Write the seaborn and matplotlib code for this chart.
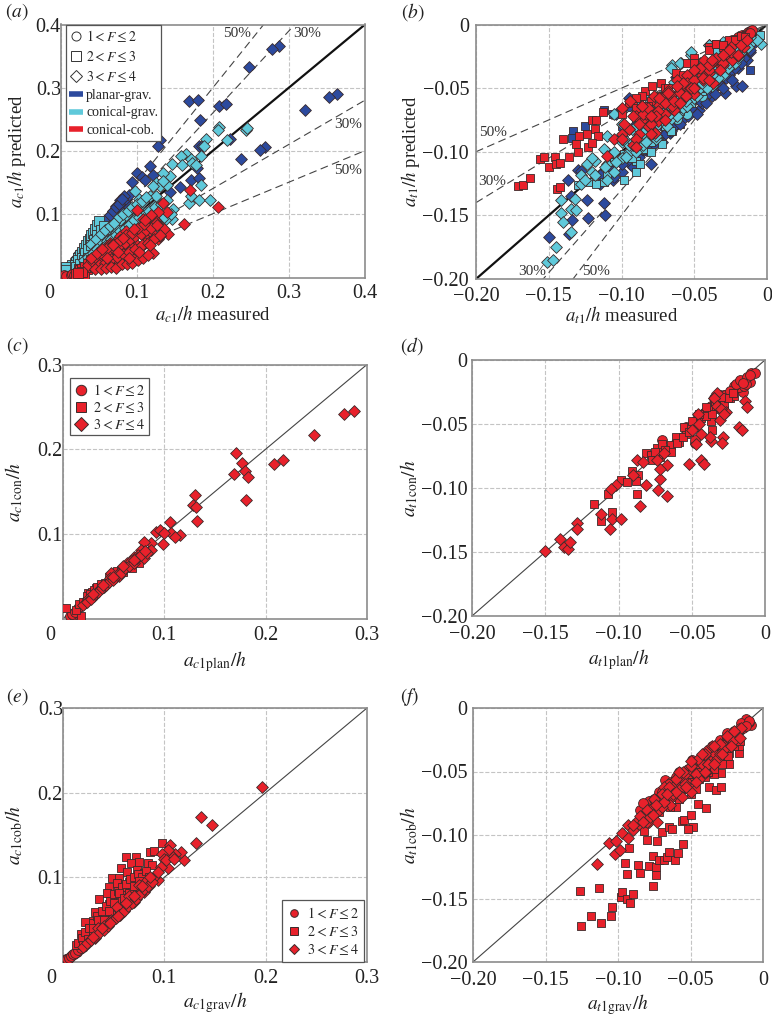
import matplotlib
matplotlib.use('Agg')
import matplotlib.pyplot as plt
from matplotlib.lines import Line2D
from matplotlib.transforms import ScaledTranslation
import seaborn as sns

# panel (a): a_c1/h predicted vs measured
a_plan_cir_x = [.012, .014, .016, .018, .02, .022, .025]
a_plan_cir_y = [.004, .006, .009, .012, .014, .018, .021]
a_plan_sq_x = [.018, .022, .026, .03, .034, .036, .04, .028, .024, .032, .044, .048, .052]
a_plan_sq_y = [.016, .022, .028, .033, .04, .045, .05, .022, .016, .026, .058, .064, .07]
a_plan_dia_x = [.287, .277, .247, .363, .353, .321, .169, .180, .208, .217, .183, .130, .128, .182, .222, .269,
                .262, .237, .117, .100, .106, .111, .121, .171, .181, .179, .157, .143, .093, .186,
                .03, .034, .038, .042, .046, .05, .054, .058, .062, .066, .07, .074, .078, .082, .086, .09,
                .036, .04, .045, .05, .055, .06, .065, .07, .075, .08, .085, .09, .083, .078, .072, .068,
                .02, .024, .028, .032, .036, .04, .044, .048, .052, .056, .06, .064, .068, .072, .076, .08,
                .026, .031, .037, .043, .049, .055, .061, .067, .073, .079, .085, .091, .097]
a_plan_dia_y = [.366, .361, .332, .290, .285, .264, .278, .281, .270, .274, .248, .217, .208, .207, .218, .205,
                .201, .186, .176, .165, .158, .154, .161, .154, .157, .173, .143, .134, .150, .208,
                .036, .045, .052, .058, .064, .07, .074, .08, .086, .09, .096, .102, .108, .118, .124, .13,
                .04, .046, .054, .058, .064, .07, .078, .084, .09, .096, .1, .11, .128, .122, .112, .104,
                .03, .037, .043, .05, .056, .062, .069, .075, .081, .087, .093, .098, .104, .11, .116, .124,
                .024, .031, .038, .046, .053, .061, .067, .074, .081, .088, .094, .102, .11]
a_cone_cir_x = [.012, .014, .016, .018, .02, .022, .024]
a_cone_cir_y = [.006, .005, .009, .01, .012, .015, .016]
a_cone_sq_x = [.013, .013, .015, .018, .02, .022, .025, .028, .03, .033, .036, .038, .04, .042, .045, .048, .05,
               .03, .035, .04, .045, .05, .055, .06, .065, .07, .018, .022, .026,
               .006, .007, .019, .023, .027, .031, .035, .039, .043, .047, .052, .056, .02, .025, .03, .035]
a_cone_sq_y = [.012, .016, .018, .02, .024, .03, .034, .04, .046, .05, .056, .06, .066, .07, .075, .082, .088,
               .03, .035, .042, .05, .055, .06, .068, .075, .082, .012, .016, .022,
               .016, .011, .019, .026, .03, .038, .044, .05, .058, .066, .074, .08, .015, .02, .026, .03]
a_cone_dia_x = [.243, .245, .208, .207, .219, .191, .188, .184, .146, .164, .158, .159, .171, .173, .177, .143,
                .134, .125, .130, .140, .134, .121, .117, .125, .103, .097, .184, .168, .171, .181, .196, .147,
                .146, .104, .086, .112, .095, .082, .075, .07, .065, .06, .055, .05, .078, .085, .09, .1, .108,
                .116, .122, .13, .138, .092, .098, .105, .113, .12, .128, .068, .075, .083, .06, .065, .072, .08,
                .04, .046, .052, .058, .064, .07, .076, .082, .088, .094, .1, .106, .112,
                .045, .052, .06, .068, .076, .084, .092, .1, .108, .116, .124, .132, .14,
                .055, .065, .075, .085, .095, .105, .115, .125, .135, .145,
                .03, .036, .042, .048, .054, .06, .066, .072, .078, .084, .09, .096, .102]
a_cone_dia_y = [.233, .236, .237, .232, .217, .219, .207, .191, .179, .194, .191, .177, .186, .181, .177, .159,
                .165, .149, .144, .146, .152, .144, .128, .128, .124, .136, .145, .117, .128, .121, .122, .107,
                .091, .109, .096, .102, .091, .081, .076, .07, .066, .06, .055, .05, .09, .098, .106, .112, .118,
                .1, .112, .098, .092, .068, .074, .08, .088, .094, .078, .062, .068, .074, .048, .052, .056, .06,
                .052, .06, .068, .074, .08, .086, .094, .1, .104, .11, .116, .12, .126,
                .042, .05, .056, .064, .07, .078, .084, .09, .096, .104, .11, .116, .122,
                .04, .048, .056, .062, .07, .076, .082, .088, .094, .1,
                .026, .032, .038, .044, .046, .052, .06, .066, .072, .078, .082, .09, .095]
a_red_cir_x = [.004, .006, .013, .015, .017, .02, .023, .025, .028]
a_red_cir_y = [.002, .001, .003, .004, .003, .006, .008, .005, .009]
a_red_sq_x = [.02, .024, .028, .03, .034, .036, .04, .044, .03, .024, .025, .028, .032, .036, .04, .028, .022]
a_red_sq_y = [.005, .008, .006, .01, .012, .016, .018, .022, .005, .012, .01, .013, .016, .02, .026, .008, .006]
a_red_dia_x = [.207, .162, .170, .134, .121, .098, .141, .130, .139, .128, .124, .115, .1, .112, .12, .128, .135,
               .04, .044, .048, .052, .056, .06, .064, .068, .072, .076, .08, .084, .088, .092, .096, .1, .104,
               .05, .055, .06, .065, .07, .075, .08, .085, .09, .095, .1, .105, .11, .115, .12, .125, .13,
               .06, .066, .072, .078, .084, .09, .096, .056, .064, .07, .078, .086, .092, .075, .082, .088, .108, .118,
               .035, .042, .049, .056, .063, .07, .077, .084, .091, .098, .105, .112, .119, .126,
               .05, .058, .066, .074, .082, .09, .098, .106, .114, .122, .13,
               .045, .053, .061, .069, .077, .085, .093, .101, .109,
               .045, .052, .059, .066, .073, .08, .087, .094, .101, .108, .115,
               .04, .047, .054, .061, .068, .075, .082, .089, .096, .103, .11, .117]
a_red_dia_y = [.110, .084, .137, .117, .037, .028, .067, .08, .102, .103, .09, .078, .106, .062, .07, .06, .075,
               .022, .026, .018, .03, .024, .036, .02, .042, .03, .05, .028, .056, .034, .06, .04, .07, .046,
               .032, .04, .048, .054, .03, .06, .038, .066, .042, .072, .05, .076, .054, .08, .058, .086, .064,
               .022, .038, .046, .02, .04, .05, .032, .028, .05, .036, .064, .072, .066, .025, .05, .03, .092, .098,
               .018, .024, .028, .034, .04, .044, .05, .054, .06, .064, .068, .074, .078, .082,
               .018, .022, .028, .032, .036, .04, .044, .05, .054, .06, .066,
               .032, .038, .046, .052, .058, .066, .07, .078, .084,
               .012, .012, .014, .016, .014, .02, .02, .022, .026, .03, .034,
               .03, .038, .044, .03, .05, .04, .062, .03, .075, .04, .09, .05]

# panel (b): a_t1/h predicted vs measured
b_plan_cir_x = [-.012, -.015, -.018, -.022, -.028, -.035, -.042, -.06, -.068]
b_plan_cir_y = [-.01, -.014, -.02, -.026, -.032, -.04, -.046, -.062, -.075]
b_plan_sq_x = [-.1335, -.125, -.134, -.112, -.106, -.012, -.095, -.1, -.09, -.085, -.08, -.075, -.07, -.065, -.06,
               -.055, -.05, -.045, -.04, -.035, -.03, -.025, -.02, -.015]
b_plan_sq_y = [-.084, -.080, -.089, -.067, -.07, -.036, -.065, -.08, -.075, -.072, -.066, -.07, -.08, -.084, -.078,
               -.07, -.068, -.056, -.052, -.048, -.042, -.034, -.028, -.022]
b_plan_dia_x = [-.15, -.136, -.124, -.123, -.112, -.111, -.134, -.1365, -.13, -.08, -.106, -.135, -.0465, -.067, -.083,
                -.021, -.017, -.029, -.038, -.045, -.052, -.058, -.062, -.07, -.075, -.09, -.095, -.1, -.108, -.115,
                -.033, -.026, -.012, -.014, -.02, -.024, -.04, -.05, -.056, -.078, -.086, -.095, -.128, -.104,
                -.1, -.094, -.088, -.082, -.076, -.07, -.064, -.058, -.052, -.046, -.04, -.034, -.028, -.022, -.016,
                -.012, -.008, -.11, -.1, -.09, -.08, -.07, -.06, -.05, -.04, -.03, -.02, -.0625,
                -.115, -.105, -.1, -.092, -.086, -.078, -.072, -.066, -.06, -.054, -.048, -.042, -.036, -.03, -.024, -.018]
b_plan_dia_y = [-.167, -.165, -.138, -.152, -.14, -.15, -.154, -.122, -.114, -.11, -.122, -.135, -.067, -.0855, -.099,
                -.048, -.048, -.054, -.056, -.062, -.068, -.072, -.078, -.082, -.088, -.096, -.104, -.108, -.112, -.118,
                -.046, -.04, -.022, -.028, -.034, -.036, -.05, -.058, -.064, -.092, -.1, -.058, -.115, -.07,
                -.116, -.11, -.104, -.098, -.09, -.086, -.08, -.074, -.066, -.06, -.054, -.046, -.042, -.034, -.026,
                -.02, -.014, -.1, -.088, -.078, -.07, -.06, -.052, -.042, -.035, -.026, -.018, -.041,
                -.125, -.12, -.11, -.112, -.098, -.094, -.092, -.084, -.078, -.072, -.07, -.062, -.055, -.05, -.044, -.03]
b_cone_cir_x = [-.085, -.075, -.062, -.055, -.045, -.035, -.025, -.018, -.012]
b_cone_cir_y = [-.098, -.09, -.074, -.07, -.056, -.044, -.032, -.022, -.014]
b_cone_sq_x = [-.09, -.0985, -.112, -.1175, -.123, -.09, -.087, -.093, -.08, -.075, -.07, -.066, -.06, -.05, -.045,
               -.04, -.035, -.03, -.025, -.02, -.015, -.01, -.005, -.098, -.105, -.11, -.13,
               -.085, -.08, -.078, -.072, -.065, -.058, -.052, -.045, -.038, -.03, -.022, -.014, -.06, -.04]
b_cone_sq_y = [-.116, -.122, -.1235, -.125, -.1235, -.107, -.11, -.105, -.092, -.09, -.08, -.084, -.068, -.055, -.052,
               -.046, -.04, -.034, -.026, -.02, -.016, -.012, -.008, -.102, -.108, -.118, -.126,
               -.098, -.1, -.085, -.094, -.07, -.066, -.062, -.05, -.044, -.028, -.022, -.012, -.056, -.03]
b_cone_dia_x = [-.151, -.147, -.145, -.1415, -.132, -.135, -.1415, -.1315, -.1405, -.135, -.128, -.124, -.118, -.11,
                -.105, -.1, -.095, -.09, -.085, -.08, -.076, -.072, -.066, -.062, -.058, -.054, -.05, -.046,
                -.042, -.038, -.034, -.03, -.026, -.022, -.018, -.014, -.01, -.065, -.059, -.052, -.04, -.02,
                -.004, -.1, -.105, -.09, -.08, -.07, -.06, -.128, -.12, -.11, -.1, -.092, -.085, -.075,
                -.125, -.118, -.111, -.104, -.097, -.09, -.083, -.076, -.069, -.062, -.055, -.048, -.041, -.034,
                -.027, -.02, -.013, -.007, -.1, -.09, -.08, -.07, -.06, -.05, -.04, -.03, -.02, -.012,
                -.095, -.085, -.075, -.065, -.055, -.045, -.035, -.025, -.066, -.06, -.052, -.04, -.035, -.03,
                -.12, -.112, -.105, -.098, -.092, -.086, -.08, -.074, -.068, -.062, -.056, -.05, -.044, -.038,
                -.032, -.026, -.02, -.015, -.11, -.1, -.09, -.082, -.072, -.064, -.054, -.046, -.036, -.028]
b_cone_dia_y = [-.187, -.185, -.175, -.138, -.1375, -.145, -.148, -.146, -.155, -.163, -.125, -.11, -.107, -.122,
                -.116, -.092, -.1, -.085, -.095, -.078, -.09, -.066, -.074, -.06, -.066, -.054, -.058, -.05,
                -.04, -.048, -.034, -.04, -.028, -.03, -.022, -.018, -.014, -.032, -.03, -.024, -.016, -.01,
                -.015, -.068, -.07, -.06, -.065, -.052, -.05, -.118, -.116, -.11, -.105, -.092, -.082, -.078,
                -.122, -.118, -.112, -.108, -.104, -.1, -.092, -.088, -.08, -.072, -.064, -.056, -.05, -.042,
                -.034, -.026, -.018, -.012, -.09, -.08, -.07, -.06, -.05, -.042, -.032, -.024, -.016, -.01,
                -.095, -.085, -.074, -.066, -.056, -.046, -.036, -.026, -.034, -.03, -.022, -.016, -.02, -.014,
                -.105, -.098, -.1, -.09, -.092, -.07, -.075, -.064, -.072, -.055, -.06, -.05, -.042, -.04,
                -.03, -.03, -.02, -.012, -.088, -.078, -.068, -.058, -.075, -.045, -.05, -.03, -.028, -.018]
b_red_cir_x = [-.02, -.017, -.015, -.013, -.012, -.011, -.01, -.024, -.03, -.026, -.022, -.02, -.016, -.014, -.012]
b_red_cir_y = [-.01, -.008, -.008, -.006, -.005, -.005, -.004, -.012, -.017, -.014, -.012, -.013, -.009, -.01, -.007]
b_red_sq_x = [-.171, -.168, -.163, -.156, -.153, -.150, -.146, -.145, -.142, -.140, -.136, -.130, -.144, -.142, -.131,
              -.129, -.124, -.123, -.120, -.1175, -.113, -.118, -.116, -.120, -.092, -.084, -.079, -.073, -.0625,
              -.1, -.095, -.09, -.086, -.08, -.07, -.065, -.055, -.05, -.04, -.035, -.03, -.026,
              -.05, -.04, -.035, -.03, -.022, -.018, -.015, -.058, -.068, -.075, -.082, -.09]
b_red_sq_y = [-.127, -.126, -.121, -.106, -.104, -.112, -.104, -.110, -.109, -.090, -.104, -.1005, -.129, -.128, -.094,
              -.088, -.086, -.096, -.075, -.075, -.069, -.082, -.088, -.0935, -.0615, -.052, -.048, -.046, -.0385,
              -.07, -.062, -.066, -.056, -.06, -.05, -.056, -.03, -.026, -.018, -.015, -.018, -.012,
              -.03, -.02, -.015, -.016, -.012, -.009, -.01, -.04, -.05, -.056, -.064, -.058]
b_red_dia_x = [-.11, -.105, -.1, -.095, -.092, -.088, -.085, -.082, -.08, -.077, -.074, -.07, -.067, -.064, -.06,
               -.057, -.054, -.05, -.047, -.044, -.04, -.037, -.034, -.03, -.027, -.024, -.02, -.016,
               -.09, -.083, -.075, -.068, -.06, -.052, -.045, -.038, -.032, -.025, -.018, -.014, -.1, -.094,
               -.072, -.078, -.086, -.062, -.055, -.043,
               -.1, -.095, -.09, -.085, -.08, -.075, -.07, -.065, -.06, -.055, -.05, -.045, -.04, -.035, -.03, -.025, -.02,
               -.088, -.082, -.076, -.07, -.064, -.058, -.052, -.046, -.04,
               -.098, -.092, -.086, -.08, -.074, -.068, -.062, -.056, -.05, -.044, -.038, -.032, -.026,
               -.09, -.08, -.07, -.06, -.05, -.04, -.03]
b_red_dia_y = [-.103, -.09, -.086, -.082, -.095, -.086, -.075, -.08, -.068, -.085, -.063, -.07, -.06, -.067, -.052,
               -.058, -.05, -.055, -.034, -.044, -.038, -.046, -.03, -.032, -.024, -.028, -.025, -.018,
               -.072, -.07, -.076, -.052, -.05, -.046, -.038, -.03, -.026, -.018, -.016, -.012, -.066, -.06,
               -.058, -.056, -.064, -.044, -.04, -.028,
               -.09, -.082, -.09, -.07, -.078, -.068, -.056, -.064, -.054, -.046, -.044, -.04, -.036, -.026, -.03, -.022, -.024,
               -.078, -.066, -.072, -.062, -.06, -.046, -.05, -.034, -.032,
               -.078, -.072, -.064, -.072, -.058, -.054, -.048, -.056, -.036, -.042, -.028, -.036, -.02,
               -.096, -.086, -.075, -.062, -.05, -.044, -.024]

# panel (c)
c_cir_x = [.007, .010, .015, .020, .024, .028, .009, .012, .017, .022]
c_cir_y = [.004, .005, .013, .018, .022, .026, .006, .008, .015, .02]
c_sq_x = [.0036, .018, .013, .025, .033, .041, .048, .056, .064, .071, .0755, .029, .037, .052, .060, .068,
          .016, .02, .024, .027, .031, .034, .038, .042, .046, .05, .054, .058]
c_sq_y = [.0125, .003, .011, .031, .036, .040, .046, .054, .062, .068, .066, .032, .038, .049, .055, .060,
          .018, .02, .027, .03, .034, .038, .041, .042, .05, .05, .056, .058]
c_dia_x = [.287, .2775, .248, .208, .2175, .171, .1685, .177, .180, .183, .181, .131, .1285, .132, .1325, .106, .107,
           .1155, .1105, .0995, .092, .096, .1, .087, .08, .087, .0805, .077, .0705, .064, .059, .0525, .048, .0445,
           .041, .036, .031, .0255, .067, .074, .056, .047, .038, .083,
           .02, .024, .028, .032, .035, .039, .043, .046, .05, .054, .058, .062, .066, .07, .073, .077, .081,
           .03, .04, .05, .06, .07]
c_dia_y = [.2455, .242, .217, .183, .188, .196, .1705, .1835, .174, .167, .14, .1465, .1345, .1325, .1155, .1145, .101,
           .099, .097, .088, .103, .105, .101, .0895, .091, .081, .072, .0815, .0735, .066, .058, .05, .054, .044,
           .038, .0345, .027, .023, .068, .075, .051, .048, .037, .078,
           .016, .02, .024, .03, .032, .036, .04, .044, .046, .052, .054, .06, .062, .066, .072, .076, .08,
           .03, .04, .05, .062, .07]

# panel (d)
d_cir_x = [-.07, -.048, -.048, -.054, -.046, -.0415, -.039, -.0345, -.031, -.022, -.0175, -.015, -.014, -.0095, -.007,
           -.0105, -.018, -.021, -.014, -.028, -.04, -.037, -.034, -.03, -.027, -.024, -.02, -.017, -.013, -.012, -.01, -.015]
d_cir_y = [-.0625, -.065, -.0625, -.0525, -.043, -.0415, -.038, -.03, -.027, -.0235, -.017, -.025, -.0155, -.0105,
           -.0105, -.017, -.021, -.02, -.02, -.027, -.04, -.036, -.033, -.03, -.027, -.024, -.019, -.016, -.019, -.013, -.012, -.018]
d_sq_x = [-.117, -.1075, -.1045, -.112, -.098, -.0945, -.0905, -.087, -.088, -.0875, -.0815, -.078, -.074, -.072, -.077,
          -.073, -.064, -.064, -.0585, -.061, -.054, -.055, -.0505, -.047, -.036, -.037, -.0335, -.029, -.024, -.021,
          -.028, -.034, -.06, -.056, -.052, -.048, -.044, -.04, -.036, -.032, -.028, -.025, -.022, -.03, -.04, -.045,
          -.05, -.07, -.075, -.068]
d_sq_y = [-.1125, -.105, -.1185, -.126, -.094, -.095, -.0865, -.09, -.0945, -.1045, -.073, -.074, -.069, -.0755, -.078,
          -.0745, -.0665, -.0715, -.064, -.06, -.0575, -.0525, -.0535, -.048, -.055, -.048, -.038, -.0325, -.03, -.0285,
          -.039, -.033, -.065, -.06, -.056, -.052, -.045, -.044, -.042, -.036, -.034, -.03, -.026, -.029, -.037, -.042,
          -.048, -.066, -.072, -.07]
d_dia_x = [-.15, -.14, -.137, -.1345, -.133, -.1285, -.128, -.112, -.1055, -.1045, -.098, -.085, -.067, -.073, -.072,
           -.0815, -.0875, -.0835, -.09, -.067, -.052, -.044, -.0415, -.037, -.0375, -.029, -.0295, -.018, -.016,
           -.0135, -.012, -.033, -.0345, -.047, -.0435, -.0265, -.031, -.102, -.105, -.069, -.072, -.074, -.046,
           -.035, -.033, -.03, -.028, -.045, -.05]
d_dia_y = [-.149, -.14, -.146, -.148, -.142, -.127, -.132, -.1205, -.132, -.124, -.1245, -.114, -.106, -.1015, -.093,
           -.098, -.0785, -.08, -.09, -.082, -.081, -.078, -.081, -.0635, -.06, -.06, -.0645, -.052, -.055,
           -.032, -.037, -.0255, -.03, -.066, -.0575, -.0405, -.047, -.098, -.1005, -.073, -.085, -.078, -.042,
           -.03, -.036, -.038, -.042, -.05, -.055]

# panel (e)
e_cir_x = [.003, .005, .007, .009, .011, .014, .017, .02, .004, .006, .008, .01, .012, .015, .018]
e_cir_y = [.003, .004, .006, .008, .01, .012, .015, .018, .004, .005, .007, .009, .011, .014, .016]
e_sq_x = [.0625, .0717, .067, .075, .057, .0635, .0735, .0855, .09, .084, .098, .088, .08, .0485, .055, .045, .0535,
          .0435, .036, .06, .068, .06, .052, .045, .037, .032, .03, .022, .0245, .0175, .0125, .043, .05, .056, .026,
          .065, .073, .035, .04, .028, .02,
          .015, .019, .022, .026, .03, .034, .038, .042, .046, .05, .054, .058, .062, .066, .07, .074, .078, .082,
          .02, .025, .03, .035, .04, .045, .05, .055, .06, .065, .07, .075, .08,
          .03, .035, .04, .045, .05, .055, .06, .065, .07, .075, .08, .085]
e_sq_y = [.124, .124, .117, .118, .111, .1065, .1085, .13, .131, .1165, .141, .1145, .105, .099, .099, .089, .093,
          .081, .074, .089, .089, .081, .076, .069, .055, .059, .049, .047, .0355, .033, .02, .06, .066, .072, .04,
          .095, .085, .048, .055, .028, .022,
          .022, .028, .036, .04, .046, .054, .06, .066, .072, .08, .084, .088, .092, .098, .1, .104, .1, .108,
          .02, .027, .032, .04, .043, .05, .056, .062, .068, .074, .08, .088, .094,
          .04, .05, .05, .06, .07, .082, .076, .082, .09, .096, .09, .1]
e_dia_x = [.196, .136, .147, .1315, .119, .116, .111, .109, .106, .104, .104, .098, .0995, .0965, .094, .09, .083, .08,
           .075, .07, .06, .0535, .055, .047, .035, .032, .025, .04, .065, .085, .078,
           .02, .024, .028, .032, .036, .04, .044, .048, .052, .056, .06, .064, .068, .072, .076, .08, .084, .088,
           .03, .038, .046, .054, .062, .07, .078, .086, .094, .102, .11]
e_dia_y = [.207, .171, .162, .141, .12, .130, .128, .124, .138, .132, .1105, .128, .122, .1125, .097, .1, .097, .083,
           .091, .071, .062, .065, .055, .05, .04, .028, .022, .042, .078, .09, .085,
           .018, .022, .026, .03, .034, .038, .042, .048, .052, .056, .06, .066, .07, .074, .08, .086, .09, .094,
           .03, .04, .046, .054, .07, .078, .09, .1, .106, .12, .122]

# panel (f)
f_cir_x = [-.049, -.0675, -.0635, -.0785, -.08, -.077, -.06, -.056, -.0245, -.012, -.0085, -.013, -.01, -.016, -.02,
           -.03, -.035, -.042, -.05, -.072, -.014, -.085, -.083, -.075, -.07, -.065, -.058, -.052, -.046, -.04, -.035,
           -.03, -.025, -.02, -.015, -.01, -.082, -.076, -.068, -.062, -.055, -.048, -.038, -.032, -.026, -.022, -.016, -.012]
f_cir_y = [-.041, -.057, -.058, -.0735, -.079, -.083, -.054, -.053, -.02, -.009, -.013, -.013, -.011, -.017, -.021,
           -.027, -.032, -.04, -.05, -.066, -.016, -.08, -.075, -.072, -.066, -.06, -.05, -.048, -.044, -.036, -.03,
           -.025, -.024, -.018, -.012, -.01, -.086, -.08, -.07, -.066, -.056, -.056, -.04, -.034, -.03, -.022, -.016, -.014]
f_sq_x = [-.1256, -.126, -.1185, -.113, -.1115, -.105, -.104, -.098, -.0975, -.094, -.0915, -.09, -.095, -.0935, -.0865,
          -.085, -.0785, -.076, -.0735, -.0735, -.076, -.0715, -.068, -.066, -.065, -.061, -.0585, -.0555, -.0925, -.08,
          -.073, -.0695, -.082, -.065, -.0625, -.056, -.0545, -.05, -.048, -.052, -.045, -.0395, -.0375, -.0325, -.029,
          -.0235, -.0235, -.0165, -.0165, -.029, -.034, -.04, -.0315, -.02, -.06, -.0785, -.05, -.044, -.038, -.028,
          -.068, -.055, -.048, -.036, -.026, -.075, -.068, -.062, -.056, -.05, -.045, -.04, -.035, -.03, -.026, -.022,
          -.018, -.07, -.06, -.05, -.04, -.03, -.025,
          -.08, -.072, -.064, -.058, -.052, -.046, -.04, -.034, -.028, -.024, -.02, -.016]
f_sq_y = [-.172, -.144, -.164, -.1415, -.1695, -.1635, -.1565, -.1485, -.145, -.15, -.1535, -.1465, -.122, -.1305, -.1235,
          -.13, -.1245, -.14, -.1315, -.125, -.1165, -.12, -.12, -.117, -.1135, -.12, -.1145, -.107, -.11, -.104,
          -.105, -.0975, -.097, -.0935, -.0955, -.089, -.088, -.084, -.0935, -.095, -.0755, -.079, -.0625, -.0645, -.0625,
          -.044, -.0355, -.0355, -.03, -.0515, -.052, -.054, -.041, -.0225, -.078, -.08, -.068, -.056, -.05, -.04,
          -.076, -.062, -.058, -.042, -.03, -.083, -.074, -.07, -.064, -.06, -.05, -.046, -.038, -.034, -.028, -.026,
          -.02, -.07, -.06, -.052, -.042, -.03, -.034,
          -.09, -.082, -.078, -.072, -.064, -.064, -.05, -.048, -.044, -.038, -.03, -.026]
f_dia_x = [-.1145, -.1065, -.1015, -.102, -.0985, -.097, -.093, -.093, -.09, -.0855, -.0785, -.073, -.082, -.076, -.07,
           -.066, -.063, -.06, -.057, -.054, -.051, -.048, -.045, -.042, -.039, -.0395, -.036, -.033, -.03, -.027, -.024,
           -.021, -.018, -.015, -.08, -.072, -.064, -.056, -.05, -.044, -.038, -.032, -.086, -.068, -.06,
           -.085, -.08, -.075, -.07, -.065, -.06, -.055, -.05, -.045, -.04, -.035, -.03, -.025, -.02, -.078, -.07, -.062,
           -.054, -.046, -.038, -.03, -.09, -.083, -.076, -.068, -.06, -.053, -.046, -.04, -.034, -.028, -.022, -.016,
           -.074, -.066, -.058, -.05, -.042, -.034]
f_dia_y = [-.123, -.106, -.105, -.115, -.112, -.0985, -.092, -.102, -.096, -.091, -.0895, -.09, -.084, -.078, -.073,
           -.066, -.07, -.06, -.064, -.052, -.06, -.05, -.054, -.044, -.05, -.0335, -.042, -.036, -.03, -.032, -.024,
           -.026, -.02, -.016, -.09, -.08, -.076, -.07, -.066, -.056, -.044, -.04, -.088, -.062, -.056,
           -.085, -.08, -.072, -.068, -.062, -.056, -.05, -.046, -.04, -.036, -.03, -.028, -.022, -.018, -.086, -.078, -.068,
           -.06, -.052, -.044, -.036, -.092, -.09, -.084, -.074, -.066, -.062, -.058, -.05, -.044, -.036, -.03, -.024,
           -.076, -.068, -.05, -.042, -.036, -.03]

tick_c = [0, .1, .2, .3]
tick_t = [-.20, -.15, -.10, -.05, 0]
labels_c = ['0', '0.1', '0.2', '0.3']
labels_t = ['\u22120.20', '\u22120.15', '\u22120.10', '\u22120.05', '0']

BLUE = '#2C4A9E'
CYAN = '#5FC9DA'
RED = '#E8212B'
EDGE = '#3a2a2a'
FRAME = '#8c8c8c'
GRID = '#c4c4c4'

sns.set_theme(style='white')
plt.rcParams['font.family'] = ['Liberation Serif', 'DejaVu Sans']
plt.rcParams['mathtext.fontset'] = 'stix'

W, H = 772, 1018
fig = plt.figure(figsize=(W / 100, H / 100), dpi=100)


def panel(left, top, right, bottom):
    return fig.add_axes([left / W, 1 - bottom / H, (right - left) / W, (bottom - top) / H])


def dots(ax, x, y, marker, color, size):
    sns.scatterplot(x=x, y=y, ax=ax, marker=marker, color=color, s=size, edgecolor=EDGE,
                    linewidth=0.6, legend=False, zorder=3)


def style(ax, box, xt, xl, yt, yl, xlim, ylim, xlabel, ylabel, xlab_px, ylab_px, ypad, xpad=5, lab=14, shift0=False):
    left, top, right, bottom = box
    ax.set_xlim(xlim)
    ax.set_ylim(ylim)
    ax.set_xticks(xt, xl)
    ax.set_yticks(yt, yl)
    ax.tick_params(length=0, labelsize=14.5, colors='#222222')
    ax.tick_params(axis='x', pad=xpad)
    ax.tick_params(axis='y', pad=ypad)
    ax.grid(True, ls='--', lw=0.8, color=GRID)
    ax.set_axisbelow(True)
    for s in ax.spines.values():
        s.set_color(FRAME)
        s.set_linewidth(1.2)
    ax.set_xlabel(xlabel, fontsize=lab, color='#222222', va='center')
    ax.set_ylabel(ylabel, fontsize=lab, color='#222222', va='center')
    ax.xaxis.set_label_coords(.5, -(xlab_px - bottom) / (bottom - top))
    ax.yaxis.set_label_coords((ylab_px - left) / (right - left), .5)
    if shift0:
        # the 0 under the corner sits left of the frame in the original
        lb = ax.get_xticklabels()[0]
        lb.set_transform(lb.get_transform() + ScaledTranslation(-8.5 / 72, 0, fig.dpi_scale_trans))


def three(ax, cx, cy, sx, sy, dx, dy, color=RED, big=False):
    dots(ax, cx, cy, 'o', color, 50)
    dots(ax, sx, sy, 's', color, 42 if big else 34)
    dots(ax, dx, dy, 'D', color, 36)


def f_handles(mec, mfc, ms):
    marks = ['o', 's', 'D']
    texts = ['$1 < F \\leq 2$', '$2 < F \\leq 3$', '$3 < F \\leq 4$']
    return [Line2D([], [], ls='', marker=m, mfc=mfc, mec=mec, mew=0.7, ms=ms, label=t)
            for m, t in zip(marks, texts)]


def add_legend(ax, handles, loc, size, **kw):
    leg = ax.legend(handles=handles, loc=loc, fontsize=size, frameon=True, fancybox=False, framealpha=1,
                    edgecolor='#555555', borderaxespad=0, **kw)
    leg.get_frame().set_linewidth(0.9)
    leg.set_zorder(5)
    return leg


# (a)
box = (61, 24.5, 365, 278)
ax = panel(*box)
style(ax, box, tick_c + [.4], labels_c + ['0.4'], [.1, .2, .3, .4], ['0.1', '0.2', '0.3', '0.4'],
      (0, .4), (-.002, .4), '$a_{c1}/h$ measured', '$a_{c1}/h$ predicted', 314, 17, 0, xpad=4, lab=13.5, shift0=True)
ax.plot([0, .4], [0, .4], color='#111111', lw=1.6, zorder=2)
for k in [1.3, 1.5, .7, .5]:
    ax.plot([0, .4], [0, .4 * k], color='#444444', lw=0.8, ls=(0, (7, 4)), zorder=2)
three(ax, a_plan_cir_x, a_plan_cir_y, a_plan_sq_x, a_plan_sq_y, a_plan_dia_x, a_plan_dia_y, BLUE, True)
three(ax, a_cone_cir_x, a_cone_cir_y, a_cone_sq_x, a_cone_sq_y, a_cone_dia_x, a_cone_dia_y, CYAN, True)
three(ax, a_red_cir_x, a_red_cir_y, a_red_sq_x, a_red_sq_y, a_red_dia_x, a_red_dia_y, RED, True)
hs = f_handles('#333333', 'white', 6.5)
hs += [Line2D([], [], color=c, lw=4, solid_capstyle='butt', label=t)
       for c, t in [(BLUE, 'planar-grav.'), (CYAN, 'conical-grav.'), (RED, 'conical-cob.')]]
add_legend(ax, hs, 'upper left', 10, bbox_to_anchor=(.016, 1), handlelength=1.0, handletextpad=.2,
           labelspacing=.35, borderpad=.25)
for x, y, t, ha in [(.232, .386, '50%', 'center'), (.324, .386, '30%', 'center'),
                    (.396, .241, '30%', 'right'), (.396, .169, '50%', 'right')]:
    ax.text(x, y, t, fontsize=11, ha=ha, va='center', color='#333333', zorder=6)

# (b)
box = (476, 24.5, 767, 279)
ax = panel(*box)
style(ax, box, tick_t, labels_t, tick_t, labels_t, (-.2, 0), (-.2, 0), '$a_{t1}/h$ measured', '$a_{t1}/h$ predicted',
      315, 411, 5, xpad=6, lab=13.5)
ax.plot([-.2, 0], [-.2, 0], color='#111111', lw=1.6, zorder=2)
for k in [1.3, 1.5, .7, .5]:
    ax.plot([-.2, 0], [-.2 * k, 0], color='#444444', lw=0.8, ls=(0, (7, 4)), zorder=2)
three(ax, b_plan_cir_x, b_plan_cir_y, b_plan_sq_x, b_plan_sq_y, b_plan_dia_x, b_plan_dia_y, BLUE)
three(ax, b_cone_cir_x, b_cone_cir_y, b_cone_sq_x, b_cone_sq_y, b_cone_dia_x, b_cone_dia_y, CYAN)
three(ax, b_red_cir_x, b_red_cir_y, b_red_sq_x, b_red_sq_y, b_red_dia_x, b_red_dia_y, RED)
for x, y, t in [(-.188, -.085, '50%'), (-.189, -.123, '30%'), (-.1615, -.194, '30%'), (-.1175, -.194, '50%')]:
    ax.text(x, y, t, fontsize=11, ha='center', va='center', color='#333333', zorder=6)

# (c)
box = (62.5, 364.5, 367, 619)
ax = panel(*box)
style(ax, box, tick_c, labels_c, tick_c[1:], labels_c[1:], (0, .3), (0, .3), '$a_{c1\\mathrm{plan}}/h$',
      '$a_{c1\\mathrm{con}}/h$', 662, 14, 0, shift0=True)
ax.plot([0, .3], [0, .3], color='#444444', lw=0.8, zorder=2)
three(ax, c_cir_x, c_cir_y, c_sq_x, c_sq_y, c_dia_x, c_dia_y)
add_legend(ax, f_handles(EDGE, RED, 7.5), 'upper left', 10.3, bbox_to_anchor=(.026, .947), handlelength=1.0,
           handletextpad=.3, labelspacing=.15, borderpad=.25)

# (d)
box = (472, 360, 765, 616)
ax = panel(*box)
style(ax, box, tick_t, labels_t, tick_t, labels_t, (-.2, 0), (-.2, 0), '$a_{t1\\mathrm{plan}}/h$',
      '$a_{t1\\mathrm{con}}/h$', 660, 409, 3.5, xpad=6.5)
ax.plot([-.2, 0], [-.2, 0], color='#444444', lw=0.8, zorder=2)
three(ax, d_cir_x, d_cir_y, d_sq_x, d_sq_y, d_dia_x, d_dia_y)

# (e)
box = (63, 708, 367, 962)
ax = panel(*box)
style(ax, box, tick_c, labels_c, tick_c[1:], labels_c[1:], (0, .3), (0, .3), '$a_{c1\\mathrm{grav}}/h$',
      '$a_{c1\\mathrm{cob}}/h$', 1003, 14, 0, shift0=True)
ax.plot([0, .3], [0, .3], color='#444444', lw=0.8, zorder=2)
three(ax, e_cir_x, e_cir_y, e_sq_x, e_sq_y, e_dia_x, e_dia_y)
add_legend(ax, f_handles(EDGE, RED, 5.5), 'lower right', 10.3, bbox_to_anchor=(.99, 0), handlelength=1.0,
           handletextpad=.4, labelspacing=.2, borderpad=.35)

# (f)
box = (473, 708, 763, 962)
ax = panel(*box)
style(ax, box, tick_t, labels_t, tick_t, labels_t, (-.2, 0), (-.2, 0), '$a_{t1\\mathrm{grav}}/h$',
      '$a_{t1\\mathrm{cob}}/h$', 1005, 409, 4, xpad=6.5)
ax.plot([-.2, 0], [-.2, 0], color='#444444', lw=0.8, zorder=2)
three(ax, f_cir_x, f_cir_y, f_sq_x, f_sq_y, f_dia_x, f_dia_y)

for t, x, y in [('a', 5, 12), ('b', 401, 12), ('c', 6, 346), ('d', 400, 346), ('e', 6, 697), ('f', 400, 697)]:
    fig.text(x / W, 1 - y / H, f'$(\\mathit{{{t}}})$', fontsize=14, va='center', color='#222222')

fig.savefig('out.png', dpi=100)
